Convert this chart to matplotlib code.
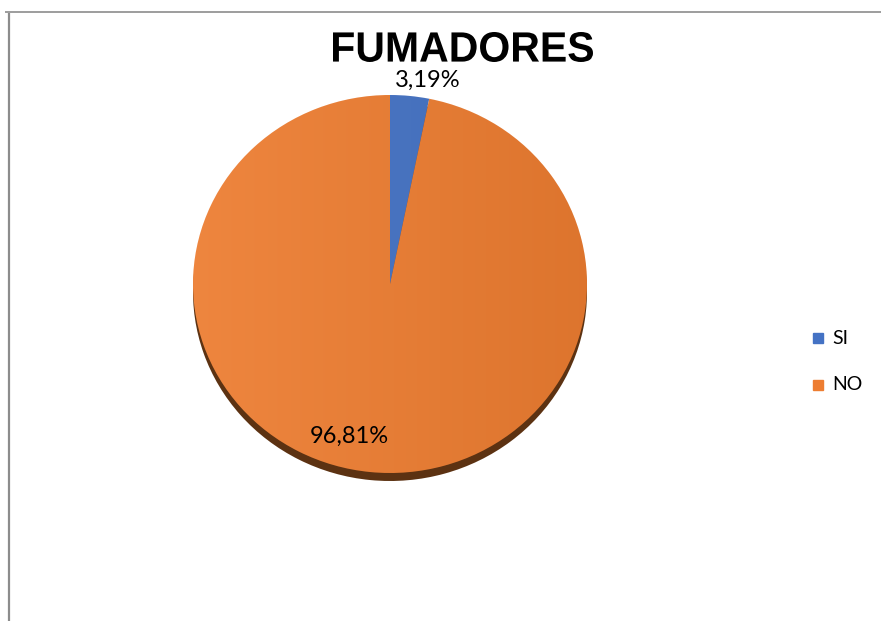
import numpy as np
import matplotlib.pyplot as plt
from matplotlib.patches import Rectangle, PathPatch
from matplotlib.textpath import TextPath
from matplotlib.font_manager import FontProperties
from matplotlib.transforms import Affine2D
from matplotlib.colors import LinearSegmentedColormap

categories = ["SI", "NO"]
values = [3.19, 96.81]
colors = ["#4472C4", "#ED7D31"]
title = "FUMADORES"

W, H = 881, 621
fig = plt.figure(figsize=(W/100, H/100), dpi=100)

# chart frame (top and left edges only)
fig.add_artist(plt.Line2D([5/W, 1], [1-12/H, 1-12/H], color="#8c8c8c", lw=1.2,
                          solid_capstyle="butt"))
fig.add_artist(plt.Line2D([9/W, 9/W], [0, 1-13/H], color="#8c8c8c", lw=1.6,
                          solid_capstyle="butt"))

# pie axes, slightly squashed to give the tilted look
cx, cy, rx, ry = 390, 284, 197, 189
ax = fig.add_axes([(cx-rx)/W, (H-cy-ry)/H, 2*rx/W, 2*ry/H])

# side of the disc
depth = 8/ry
side, _ = ax.pie(values, colors=["#2a4a80", "#5c3212"], startangle=90,
                 counterclock=False, radius=1, center=(0, -depth), frame=True)
wedges, _ = ax.pie(values, colors=colors, startangle=90, counterclock=False,
                   radius=1, frame=True)
ax.set_xlim(-1, 1)
ax.set_ylim(-1, 1)
ax.set_aspect("auto")
ax.axis("off")
for w in side + wedges:
    w.set_clip_on(False)

# soft shading across the top face
grad = np.linspace(0, 1, 256).reshape(1, -1)
shade = LinearSegmentedColormap.from_list("shade", ["#ffffff", "#000000"])
for w in wedges:
    im = ax.imshow(grad, extent=[-1, 1, -1, 1], aspect="auto", cmap=shade,
                   alpha=0.07, zorder=w.get_zorder() + 0.1)
    im.set_clip_path(w)

# data labels
label_pos = [(0.193, 1.079), (-0.208, -0.804)]
for v, (x, y) in zip(values, label_pos):
    ax.text(x, y, f"{v:.2f}%".replace(".", ","), ha="center", va="center",
            fontsize=17, family="Lato", color="#000000", zorder=5, clip_on=False)

# condensed bold title, drawn as a path in pixel units
tp = TextPath((0, 0), title, size=40,
              prop=FontProperties(family="Liberation Sans", weight="bold"))
bb = tp.get_extents()
sx = 260 / bb.width
sy = 30 / bb.height
tx = 463 - bb.width*sx/2 - bb.x0*sx
ty = (H - 62) - bb.y0*sy
path = Affine2D().scale(sx, sy).translate(tx, ty).transform_path(tp)
fig.add_artist(PathPatch(path, transform=None, facecolor="black", edgecolor="none"))

# legend
for i, (name, c) in enumerate(zip(categories, colors)):
    ypx = 338 + i*47
    fig.add_artist(Rectangle((813/W, 1-(ypx+5)/H), 10/W, 10/H,
                             transform=fig.transFigure, color=c))
    fig.text(832/W, 1-ypx/H, name, ha="left", va="center",
             fontsize=14, family="Lato")

fig.savefig("out.png", dpi=100)
